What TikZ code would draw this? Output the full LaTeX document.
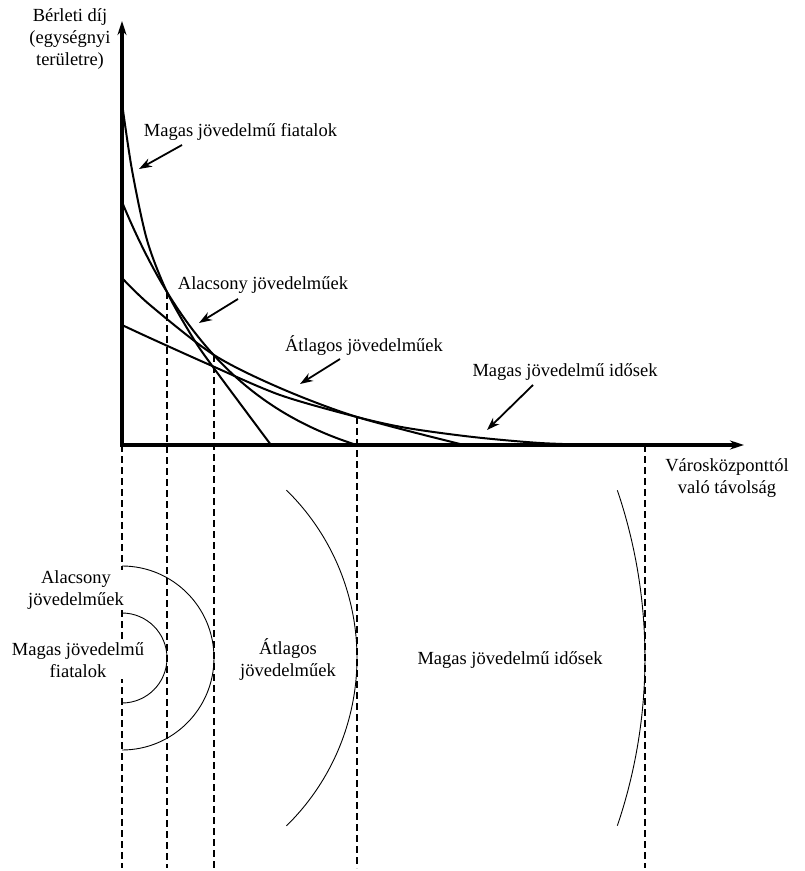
\documentclass[tikz,border=0pt]{standalone}
\usepackage{fontspec}
\setmainfont{Liberation Serif}
\usetikzlibrary{arrows.meta}
\tikzset{
    axis/.style={line width=3bp,{Stealth[length=14bp,width=9bp]}-{Stealth[length=14bp,width=9bp]}},
    rent/.style={line width=2bp},
    guide/.style={line width=1.4bp,dash pattern=on 7bp off 4bp},
    zone/.style={line width=0.9bp},
    pointer/.style={line width=1.8bp,-{Stealth[length=13bp,width=9bp]}},
    lbl/.style={font=\fontsize{18.5bp}{22bp}\selectfont,align=center,inner sep=1bp}
}
\begin{document}
\begin{tikzpicture}[x=20bp,y=20bp]
            \useasboundingbox (-6.1,-21.3) rectangle (34.15,22.25);

            \coordinate (O) at (0,0);
            \coordinate (ytop) at (0,21.2);
            \coordinate (xend) at (31.1,0);
            \coordinate (ctr) at (0,-10.65); %kozpont

            \draw[guide] (0,0) -- (0,-21.15); %szaggatott
            \draw[guide] (2.25,7.65) -- (2.25,-21.15);
            \draw[guide] (4.6,4.5) -- (4.6,-21.15);
            \draw[guide] (11.75,1.4) -- (11.75,-21.15);
            \draw[guide] (26.15,0) -- (26.15,-21.15);

            \draw[rent] plot[smooth] coordinates {(0,17.1) (0.5,13.75) (1.25,10.25) (2.25,7.65) (3.55,5.35) (4.55,3.9) (7.45,0)}; %fiatalok
            \draw[rent] plot[domain=0:11.75,samples=60] (\x,{14*exp(-0.1725*\x)-1.85}); %alacsony
            \draw[rent] plot[smooth] coordinates {(0,8.35) (1.4,7.0) (4.6,4.5) (7.9,2.85) (11.75,1.4) (17.1,0)}; %atlagos
            \draw[rent] plot[smooth] coordinates {(0,6.0) (1.4,5.35) (4.4,4.0) (7.9,2.5) (11.75,1.4) (14.25,0.85) (17.55,0.4) (20.9,0.1) (23.8,0)}; %idosek

            \draw[axis] (ytop) -- (O) -- (xend); %tengelyek

            \node[lbl] (ylab) at (-2.6,20.3) {Bérleti díj\\(egységnyi\\területre)};
            \node[lbl] (xlab) at (30.25,-1.63) {Városközponttól\\való távolság};

            \node[lbl] (tfia) at (5.925,15.65) {Magas jövedelmű fiatalok};
            \coordinate (fiaA) at (3.0,15.0);
            \coordinate (fiaB) at (0.85,13.8);
            \draw[pointer] (fiaA) -- (fiaB);

            \node[lbl] (talac) at (7.05,8.0) {Alacsony jövedelműek};
            \coordinate (alacA) at (5.8,7.3);
            \coordinate (alacB) at (3.85,6.1);
            \draw[pointer] (alacA) -- (alacB);

            \node[lbl] (tatl) at (12.1,4.95) {Átlagos jövedelműek};
            \coordinate (atlA) at (10.9,4.3);
            \coordinate (atlB) at (8.9,3.05);
            \draw[pointer] (atlA) -- (atlB);

            \node[lbl] (tido) at (22.15,3.65) {Magas jövedelmű idősek};
            \coordinate (idoA) at (20.55,3.0);
            \coordinate (idoB) at (18.25,0.75);
            \draw[pointer] (idoA) -- (idoB);

            \draw[zone] (ctr) ++(90:2.25) arc[start angle=90,end angle=-90,radius=2.25]; %gyuruk
            \draw[zone] (ctr) ++(90:4.6) arc[start angle=90,end angle=-90,radius=4.6];
            \draw[zone] (ctr) ++(45.6:11.75) arc[start angle=45.6,end angle=-45.6,radius=11.75];
            \draw[zone] (ctr) ++(18.7:26.15) arc[start angle=18.7,end angle=-18.7,radius=26.15];

            \node[lbl,fill=white] (zalac) at (-2.3,-7.25) {Alacsony\\jövedelműek};
            \node[lbl,fill=white] (zfia) at (-2.2,-10.75) {Magas jövedelmű\\fiatalok};
            \node[lbl] (zatl) at (8.3,-10.75) {Átlagos\\jövedelműek};
            \node[lbl] (zido) at (19.4,-10.75) {Magas jövedelmű idősek};
\end{tikzpicture}
\end{document}
